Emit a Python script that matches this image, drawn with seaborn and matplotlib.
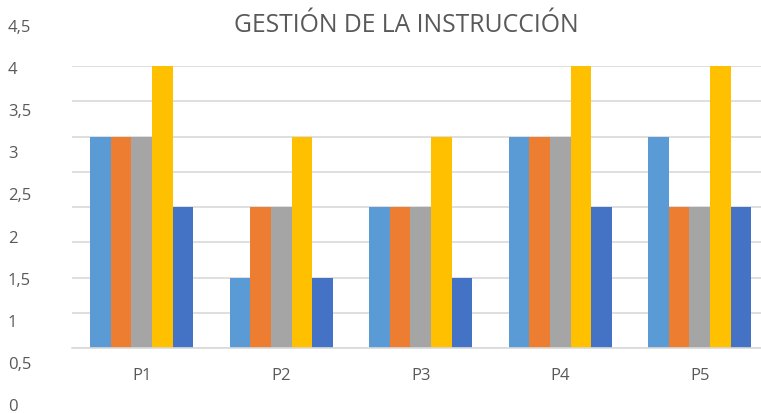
import pandas as pd
import seaborn as sns
import matplotlib.pyplot as plt
import numpy as np

categories = ["P1", "P2", "P3", "P4", "P5"]
series = ["Serie 1", "Serie 2", "Serie 3", "Serie 4", "Serie 5"]
serie1 = [3, 1, 2, 3, 3]
serie2 = [3, 2, 2, 3, 2]
serie3 = [3, 2, 2, 3, 2]
serie4 = [4, 3, 3, 4, 4]
serie5 = [2, 1, 1, 2, 2]
colors = ["#5B9BD5", "#ED7D31", "#A5A5A5", "#FFC000", "#4472C4"]
ytick_labels = ["0", "0,5", "1", "1,5", "2", "2,5", "3", "3,5", "4", "4,5"]

rows = []
for name, vals in zip(series, [serie1, serie2, serie3, serie4, serie5]):
    for cat, v in zip(categories, vals):
        rows.append({"cat": cat, "serie": name, "valor": v})
df = pd.DataFrame(rows)

sns.set_theme(style="white")
plt.rcParams['font.family'] = ['Open Sans', 'DejaVu Sans']
text_color = "#595959"
grid_color = "#D9D9D9"

W, H = 761, 414
fig = plt.figure(figsize=(W / 100, H / 100), dpi=100)

# main plot area (the right end of the original chart is cut off)
ax = fig.add_axes([72 / W, 1 - 349 / H, (W - 72) / W, (349 - 67) / H])
sns.barplot(data=df, x="cat", y="valor", hue="serie", palette=colors,
            width=0.74, gap=0, saturation=1, ax=ax, legend=False, errorbar=None)
ax.set_ylim(0, 4)
ax.set_xlim(-0.5, -0.5 + (W - 72) / 139.5)
ax.set_yticks(np.arange(0, 4.01, 0.5))
ax.yaxis.grid(True, color=grid_color, linewidth=1.2)
ax.set_axisbelow(True)
ax.set_yticklabels([])
ax.tick_params(axis="y", length=0)
ax.tick_params(axis="x", length=0, pad=14, labelsize=12, labelcolor=text_color)
for s in ["top", "right", "left"]:
    ax.spines[s].set_visible(False)
ax.spines["bottom"].set_color(grid_color)
ax.spines["bottom"].set_linewidth(1.2)
ax.set_xlabel("")
ax.set_ylabel("")
for p in ax.patches:
    p.set_edgecolor("none")

# y labels column (placed apart from the plot as in the original)
ax2 = fig.add_axes([0, 1 - 405 / H, 8 / W, (405 - 26) / H])
ax2.set_ylim(0, 4.5)
ax2.set_yticks(np.arange(0, 4.51, 0.5))
ax2.set_yticklabels(ytick_labels)
ax2.yaxis.tick_right()
ax2.tick_params(axis="y", length=0, pad=0, labelsize=12, labelcolor=text_color)
ax2.set_xticks([])
for s in ax2.spines.values():
    s.set_visible(False)
ax2.patch.set_alpha(0)

fig.text(406 / W, 1 - 25 / H, "GESTIÓN DE LA INSTRUCCIÓN", ha="center", va="center",
         fontsize=17.8, color=text_color)

fig.savefig("out.png", dpi=100)
